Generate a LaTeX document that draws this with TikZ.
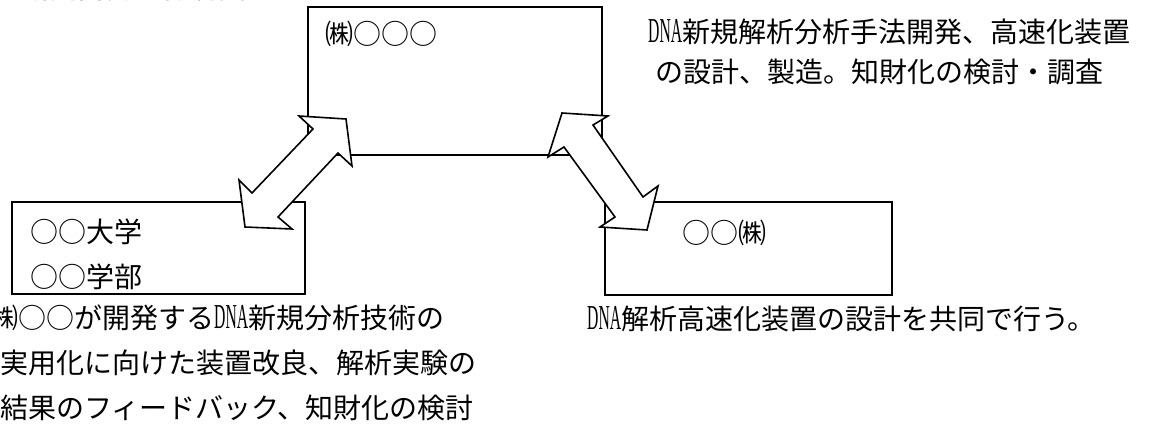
\documentclass[tikz,border=0pt]{standalone}
\usepackage{graphicx}
\usepackage{fontspec}
\setmainfont{Noto Sans CJK JP}
\newfontfamily\latinserif{Liberation Serif}
\newcommand{\dnatxt}{\scalebox{0.56}[1.25]{\latinserif DNA}}
\begin{document}
\begin{tikzpicture}[x=1pt,y=-1pt,
  box/.style={draw, line width=1.6pt, inner sep=0pt, outer sep=0pt, anchor=north west},
  dblarrow/.style={draw, fill=white, line width=1.6pt, line join=miter},
  lbl/.style={anchor=base west, inner sep=0pt, font=\fontsize{28}{34}\selectfont}]
\useasboundingbox (0,0) rectangle (1160,428);
\clip (0,0) rectangle (1160,428);
% partly cut title
\node[lbl] (title) at (22,-1) {研究開発の体制図};
% boxes
\node[box, minimum width=294, minimum height=148] (topbox) at (308,7) {};
\node[box, minimum width=293, minimum height=92] (leftbox) at (12,202) {};
\node[box, minimum width=287, minimum height=93] (rightbox) at (605,202) {};
% box texts
\node[lbl] (toptxt) at (325,44.6) {㈱○○○};
\node[lbl] (lefttxta) at (30,242.6) {○○大学};
\node[lbl] (lefttxtb) at (30,287.6) {○○学部};
\node[lbl] (righttxt) at (682,243.6) {○○㈱};
% block double arrows
\draw[dblarrow] (299,116) -- (346,119) -- (352,166) -- (338,153) -- (278,217)
  -- (292,229) -- (245,227) -- (239,180) -- (252,193) -- (313,129) -- cycle;
\draw[dblarrow] (562,113) -- (608,116) -- (593,125) -- (643,197) -- (658,186)
  -- (647,230) -- (600,227) -- (615,217) -- (564,147) -- (548,157) -- cycle;
% descriptions
\node[lbl] (desctopa) at (648,42.1) {\dnatxt 新規解析分析手法開発、高速化装置};
\node[lbl] (desctopb) at (655,82.1) {の設計、製造。知財化の検討・調査};
\node[lbl] (descla) at (-10,328.6) {㈱○○が開発する\dnatxt 新規分析技術の};
\node[lbl] (desclb) at (0,373.6) {実用化に向けた装置改良、解析実験の};
\node[lbl] (desclc) at (0,418.6) {結果のフィードバック、知財化の検討};
\node[lbl] (descr) at (587,329.6) {\dnatxt 解析高速化装置の設計を共同で行う。};
\end{tikzpicture}
\end{document}
